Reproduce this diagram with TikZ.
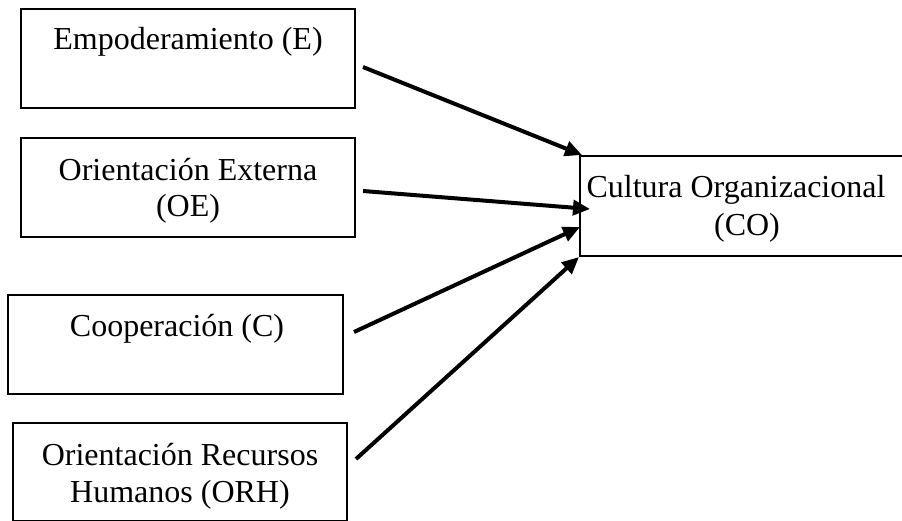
\documentclass[tikz,border=0pt]{standalone}
\usepackage{fontspec}
\setmainfont{Liberation Serif}
\usetikzlibrary{arrows.meta}
\begin{document}
\begin{tikzpicture}[x=1pt,y=-1pt,
  boxnode/.style={draw, line width=1.8pt, inner sep=0pt, rectangle},
  cobox/.style={draw, line width=1.3pt, inner sep=0pt, rectangle},
  txt/.style={anchor=base, inner sep=0pt, font=\fontsize{32}{36}\selectfont},
  arr/.style={line width=4pt, -{Triangle[length=17pt,width=15pt]}}]
\useasboundingbox (0,0) rectangle (902,520);
% boxes
\node[boxnode, minimum width=334pt, minimum height=99pt] (E) at (188,58.5) {};
\node[boxnode, minimum width=334pt, minimum height=99pt] (OE) at (188,187.5) {};
\node[boxnode, minimum width=335pt, minimum height=99pt] (C) at (175.5,344.5) {};
\node[boxnode, minimum width=334pt, minimum height=98pt] (ORH) at (180,472) {};
\node[cobox, minimum width=330pt, minimum height=100pt] (CO) at (745,206) {};
% texts
\node[txt] (tE) at (188,49) {Empoderamiento (E)};
\node[txt] (tOE1) at (188,180) {Orientación Externa};
\node[txt] (tOE2) at (188,216) {(OE)};
\node[txt] (tC) at (177,336) {Cooperación (C)};
\node[txt] (tORH1) at (180,465) {Orientación Recursos};
\node[txt] (tORH2) at (180,502) {Humanos (ORH)};
\node[txt] (tCO1) at (736,197) {Cultura Organizacional};
\node[txt] (tCO2) at (747,235) {(CO)};
% connector ends
\coordinate (s1) at (363,67);
\coordinate (s2) at (363,191);
\coordinate (s3) at (354,332);
\coordinate (s4) at (356,459);
\coordinate (e1) at (582,155);
\coordinate (e2) at (590,209);
\coordinate (e3) at (580,227);
\coordinate (e4) at (579,257);
\draw[arr] (s1) -- (e1);
\draw[arr] (s2) -- (e2);
\draw[arr] (s3) -- (e3);
\draw[arr] (s4) -- (e4);
\end{tikzpicture}
\end{document}
